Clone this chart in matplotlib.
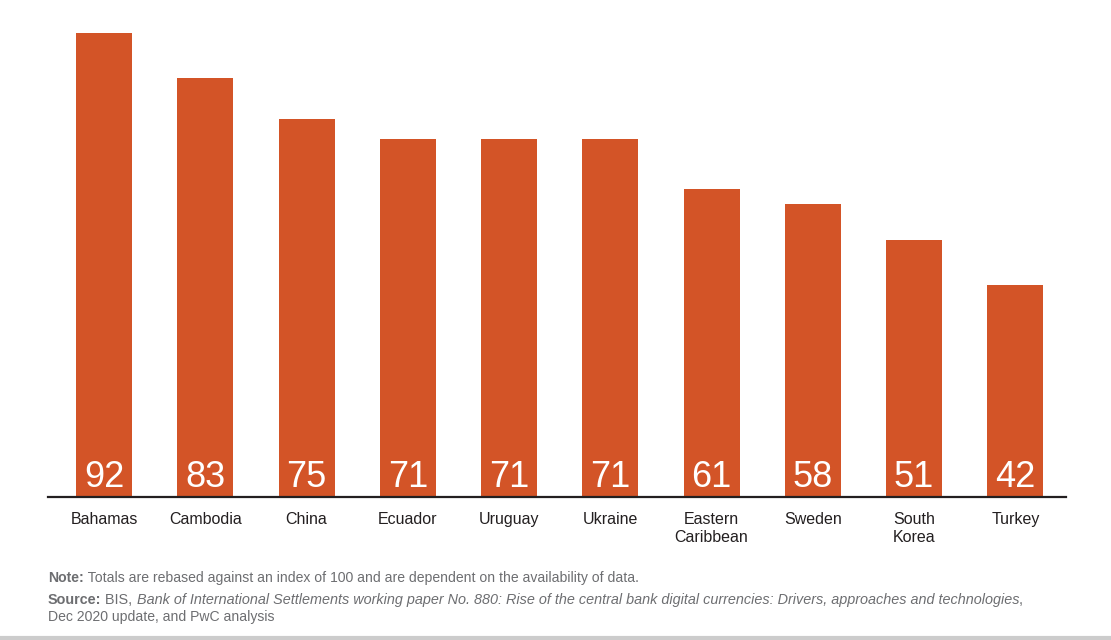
import matplotlib.pyplot as plt
from matplotlib.lines import Line2D

# data
countries = ['Bahamas', 'Cambodia', 'China', 'Ecuador', 'Uruguay', 'Ukraine',
             'Eastern\nCaribbean', 'Sweden', 'South\nKorea', 'Turkey']
scores = [92, 83, 75, 71, 71, 71, 61, 58, 51, 42]

bar_color = '#D35427'
text_grey = '#6d6e71'

plt.rcParams['font.family'] = ['Liberation Sans', 'DejaVu Sans']

fig = plt.figure(figsize=(11.11, 6.4), dpi=100)
ax = fig.add_axes([48 / 1111, 1 - 497 / 640, (1066 - 48) / 1111, (497 - 33) / 640])

x = range(len(countries))
ax.bar(x, scores, width=0.553, color=bar_color)

# white values at the bottom of each bar
for i, v in zip(x, scores):
    ax.text(i, 1.9, str(v), ha='center', va='baseline', color='white', fontsize=26)

ax.set_xlim(-0.553, 9.5)
ax.set_ylim(0, 92)
ax.set_xticks(list(x))
ax.set_xticklabels(countries, fontsize=11.5, color='#231f20', linespacing=1.3)
ax.tick_params(axis='x', length=0, pad=10.5)
ax.set_yticks([])
for s in ['top', 'right', 'left']:
    ax.spines[s].set_visible(False)
ax.spines['bottom'].set_color('#231f20')
ax.spines['bottom'].set_linewidth(1.6)

# footnotes, built piece by piece so bold/italic parts line up
fig.canvas.draw()
renderer = fig.canvas.get_renderer()


def write_parts(x0, y0, parts, size=10.1):
    xpos = x0
    for txt, style in parts:
        kw = dict(fontsize=size, color=text_grey, va='baseline', ha='left')
        if style == 'b':
            kw['fontweight'] = 'bold'
        elif style == 'i':
            kw['fontstyle'] = 'italic'
        t = fig.text(xpos, y0, txt, **kw)
        bb = t.get_window_extent(renderer=renderer)
        xpos += bb.width / fig.bbox.width


write_parts(48 / 1111, 1 - 582 / 640,
            [('Note:', 'b'), (' Totals are rebased against an index of 100 and are dependent on the availability of data.', 'n')])
write_parts(48 / 1111, 1 - 604 / 640,
            [('Source:', 'b'), (' BIS, ', 'n'),
             ('Bank of International Settlements working paper No. 880: Rise of the central bank digital currencies: Drivers, approaches and technologies', 'i'),
             (',', 'n')], size=10.4)
write_parts(48 / 1111, 1 - 621 / 640, [('Dec 2020 update, and PwC analysis', 'n')])

fig.add_artist(Line2D([0, 1], [1 - 638 / 640, 1 - 638 / 640], transform=fig.transFigure,
                      color='#cccccc', linewidth=3))

fig.savefig('out.png', dpi=100)
